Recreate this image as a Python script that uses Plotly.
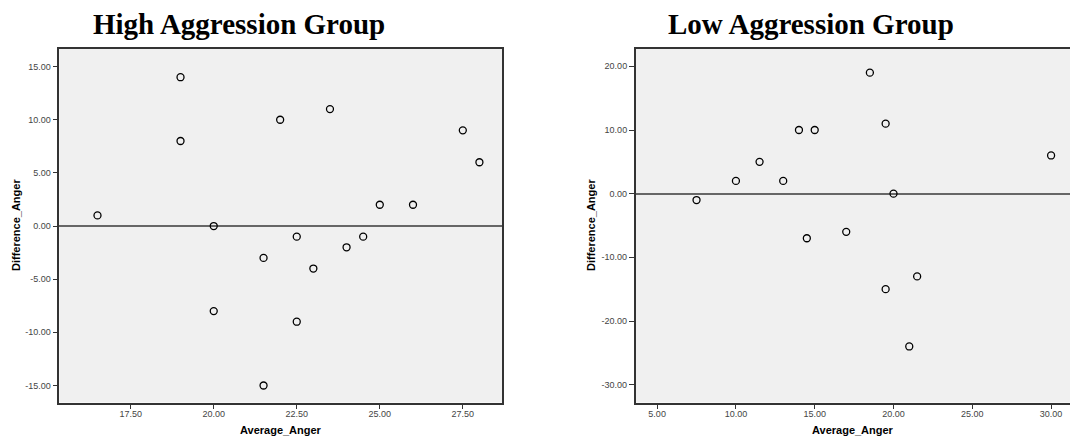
import plotly.graph_objects as go

# High Aggression Group
high_avg = [16.5, 19, 19, 20, 20, 21.5, 21.5, 22, 22.5, 22.5, 23, 23.5, 24, 24.5, 25, 26, 27.5, 28]
high_diff = [1, 14, 8, 0, -8, -3, -15, 10, -1, -9, -4, 11, -2, -1, 2, 2, 9, 6]

# Low Aggression Group
low_avg = [7.5, 10, 11.5, 13, 14, 15, 14.5, 17, 18.5, 19.5, 20, 19.5, 21.5, 21, 30]
low_diff = [-1, 2, 5, 2, 10, 10, -7, -6, 19, 11, 0, -15, -13, -24, 6]

high_xticks = [17.5, 20, 22.5, 25, 27.5]
high_yticks = [-15, -10, -5, 0, 5, 10, 15]
low_xticks = [5, 10, 15, 20, 25, 30]
low_yticks = [-30, -20, -10, 0, 10, 20]

W, H = 1070, 441
frame_col = "#333333"
tick_font = dict(family="Liberation Sans, Arial, sans-serif", size=9, color="#444444")

marker = dict(symbol="circle-open", size=7, color="black", line=dict(width=1.3, color="black"))

fig = go.Figure()
fig.add_trace(go.Scatter(x=high_avg, y=high_diff, mode="markers", marker=marker,
                         xaxis="x", yaxis="y", showlegend=False))
fig.add_trace(go.Scatter(x=low_avg, y=low_diff, mode="markers", marker=marker,
                         xaxis="x2", yaxis="y2", showlegend=False))

def xax(domain, rng, ticks, mirror):
    return dict(domain=domain, range=rng, tickvals=ticks, ticktext=[f"{t:.2f}" for t in ticks],
                showgrid=False, zeroline=False, showline=True, linecolor=frame_col, linewidth=1.5,
                mirror=mirror, ticks="outside", ticklen=5, tickcolor=frame_col, tickwidth=1,
                tickfont=tick_font, fixedrange=True, ticklabelstandoff=-3)

def yax(domain, rng, ticks, mirror, anchor):
    return dict(domain=domain, range=rng, tickvals=ticks, ticktext=[f"{t:.2f}" for t in ticks],
                showgrid=False, zeroline=True, zerolinecolor="#666666", zerolinewidth=1.5,
                showline=True, linecolor=frame_col, linewidth=1.5, anchor=anchor,
                mirror=mirror, ticks="outside", ticklen=5, tickcolor=frame_col, tickwidth=1,
                tickfont=tick_font, fixedrange=True)

ydom = [(H - 402.5) / H, (H - 48.5) / H]
x1dom = [59.3 / W, 502.0 / W]
x2dom = [635.7 / W, 1.0]

title_font = dict(family="Liberation Serif, Times New Roman, serif", size=29, color="black")
axt_font = dict(family="Liberation Sans, Arial, sans-serif", size=11, color="black")

fig.update_layout(
    width=W, height=H,
    margin=dict(l=0, r=0, t=0, b=0),
    paper_bgcolor="white",
    plot_bgcolor="#F0F0F0",
    xaxis=xax(x1dom, [15.35, 28.68], high_xticks, True) | dict(anchor="y"),
    yaxis=yax(ydom, [-16.6, 16.7], high_yticks, True, "x"),
    xaxis2=xax(x2dom, [3.64, 31.2], low_xticks, True) | dict(anchor="y2"),
    yaxis2=yax(ydom, [-32.8, 22.8], low_yticks, False, "x2"),
    annotations=[
        dict(text="<b>High Aggression Group</b>", x=239 / W, y=1 - 24 / H, xref="paper", yref="paper",
             showarrow=False, font=title_font, xanchor="center", yanchor="middle"),
        dict(text="<b>Low Aggression Group</b>", x=811 / W, y=1 - 24 / H, xref="paper", yref="paper",
             showarrow=False, font=title_font, xanchor="center", yanchor="middle"),
        dict(text="<b>Average_Anger</b>", x=(59.3 + 502) / 2 / W, y=1 - 430 / H, xref="paper", yref="paper",
             showarrow=False, font=axt_font, xanchor="center", yanchor="middle"),
        dict(text="<b>Average_Anger</b>", x=853 / W, y=1 - 430 / H, xref="paper", yref="paper",
             showarrow=False, font=axt_font, xanchor="center", yanchor="middle"),
        dict(text="<b>Difference_Anger</b>", x=16 / W, y=1 - 225 / H, xref="paper", yref="paper",
             showarrow=False, font=axt_font, textangle=-90, xanchor="center", yanchor="middle"),
        dict(text="<b>Difference_Anger</b>", x=591 / W, y=1 - 225 / H, xref="paper", yref="paper",
             showarrow=False, font=axt_font, textangle=-90, xanchor="center", yanchor="middle"),
    ],
)

fig.write_html("out.html")
